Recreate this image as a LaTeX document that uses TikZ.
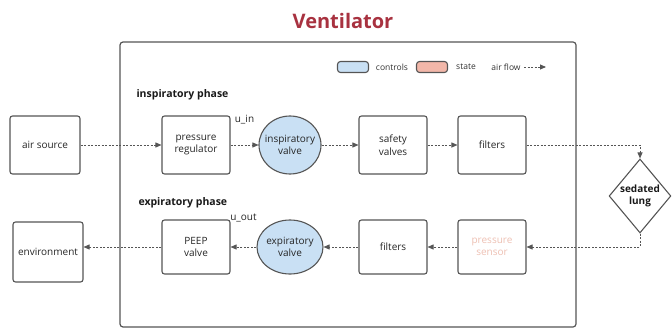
\documentclass[tikz,border=0pt]{standalone}
\usepackage{fontspec}
\setmainfont{Open Sans}
\usetikzlibrary{arrows.meta, shapes.geometric, positioning}

\definecolor{ventred}{HTML}{A83240}
\definecolor{linegray}{HTML}{555555}
\definecolor{ctrlblue}{HTML}{C9E0F4}
\definecolor{statered}{HTML}{F2B7A9}
\definecolor{sensorpink}{HTML}{EDBFB2}

\begin{document}
\begin{tikzpicture}[x=1pt, y=1pt, on grid, node distance=100pt,
	box/.style={draw=linegray, line width=1.1pt, rounded corners=2.5pt, minimum width=68pt, minimum height=58pt, align=center, text=black!85, font=\fontsize{10}{12.5}\selectfont},
	ctrl/.style={ellipse, draw=linegray, line width=1.1pt, fill=ctrlblue, minimum width=62pt, minimum height=58pt, inner xsep=-8pt, inner ysep=0pt, align=center, text=black!85, font=\fontsize{10}{12.5}\selectfont},
	flow/.style={draw=linegray, line width=0.9pt, dash pattern=on 2pt off 1.5pt, -{Triangle[length=6pt, width=5pt]}},
	phase/.style={anchor=west, text=black!90, font=\bfseries\fontsize{10.5}{12}\selectfont},
	ctrlname/.style={text=black!85, font=\fontsize{10}{12}\selectfont},
	keytext/.style={text=black!80, font=\fontsize{8.5}{10}\selectfont}]
	\useasboundingbox (0,0) rectangle (672,-329);
	
	\node[text=ventred, font=\bfseries\fontsize{20}{24}\selectfont] (title) at (343,-21) {Ventilator};
	\node[draw=linegray, line width=1.2pt, rounded corners=3pt, minimum width=456pt, minimum height=285pt] (ventbox) at (348,-184.5) {};
	
	% legend
	\node[draw=linegray, line width=1.1pt, fill=ctrlblue, rounded corners=3pt, minimum width=31pt, minimum height=11pt] (keyctrl) at (353,-67) {};
	\node[keytext] (keyctrltxt) at (392,-67) {controls};
	\node[draw=linegray, line width=1.1pt, fill=statered, rounded corners=3pt, minimum width=31pt, minimum height=11pt] (keystate) at (432,-67) {};
	\node[keytext] (keystatetxt) at (466,-67) {state};
	\node[keytext] (keyflow) at (506,-67) {air flow};
	\coordinate (keyend) at (546,-67);
	
	\node[phase] (insp) at (133,-95) {inspiratory phase};
	\node[phase] (expi) at (135,-203) {expiratory phase};
	
	% inspiratory row
	\node[box, minimum width=70pt] (src) at (45,-145) {air source};
	\node[box, right = 151pt of src] (reg) {pressure\\regulator};
	\node[ctrl, right = 94pt of reg] (inval) {inspiratory\\valve};
	\node[box, right = 103pt of inval] (safety) {safety\\valves};
	\node[box, right = 99pt of safety] (filtin) {filters};
	\node[diamond, draw=linegray, line width=1.1pt, minimum width=60pt, minimum height=74pt, inner sep=0pt, align=center, text=black!90, font=\bfseries\fontsize{10}{12}\selectfont] (lung) at (640,-196) {sedated\\lung};
	
	% expiratory row
	\node[box, below = 102pt of filtin, minimum height=54pt, text=sensorpink] (sensor) {pressure\\sensor};
	\node[box, below = 102pt of safety, minimum height=54pt] (filtout) {filters};
	\node[ctrl, below = 102pt of inval, minimum height=54pt, minimum width=66pt] (exval) {expiratory\\valve};
	\node[box, below = 102pt of reg, minimum height=54pt] (peep) {PEEP\\valve};
	\node[box, minimum width=70pt, minimum height=60pt] (env) at (48,-252) {environment};
	
	\draw[flow] (keyflow.east) -- (keyend);
	\draw[flow] (src) -- (reg);
	\draw[flow] (reg) -- node[ctrlname, yshift=25pt] {u\_in} (inval);
	\draw[flow] (inval) -- (safety);
	\draw[flow] (safety) -- (filtin);
	\draw[flow] (filtin) -| (lung.north);
	\draw[flow] (lung.south) |- (sensor.east);
	\draw[flow] (sensor) -- (filtout);
	\draw[flow] (filtout) -- (exval);
	\draw[flow] (exval) -- node[ctrlname, yshift=29pt] {u\_out} (peep);
	\draw[flow] (peep.west) -- (env.east |- peep.west);
\end{tikzpicture}
\end{document}
